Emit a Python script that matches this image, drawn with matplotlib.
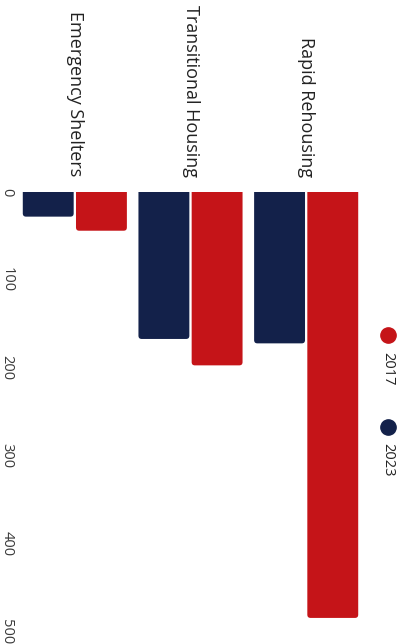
import numpy as np
import matplotlib.pyplot as plt
from matplotlib.lines import Line2D
from matplotlib.patches import FancyBboxPatch

categories = ["Emergency Shelters", "Transitional Housing", "Rapid Rehousing"]
years = ["2017", "2023"]
values_2017 = [44, 197, 484]
values_2023 = [28, 167, 172]
value_ticks = [0, 100, 200, 300, 400, 500]

color_2017 = "#C51418"
color_2023 = "#13214A"

plt.rcParams["font.family"] = ["Open Sans", "DejaVu Sans"]

fig = plt.figure(figsize=(4.04, 6.44), dpi=100)
ax = fig.add_axes([17 / 404, 1 - 632 / 644, 347 / 404, 440 / 644])

x = np.arange(len(categories))
width = 0.44
bars_2023 = ax.bar(x - 0.23, values_2023, width, color=color_2023)
bars_2017 = ax.bar(x + 0.23, values_2017, width, color=color_2017)

ax.set_xlim(-0.5, 2.5)
ax.set_ylim(0, 500)
ax.invert_yaxis()

# small rounded ends on the bars (the start at 0 is clipped by the axes)
aspect = (500 / 440) / (3 / 347)
for bar in list(bars_2023) + list(bars_2017):
    bx, by = bar.get_x(), bar.get_y()
    bw, bh = bar.get_width(), bar.get_height()
    rounded = FancyBboxPatch((bx, by - 10), bw, bh + 10,
                             boxstyle="round,pad=0,rounding_size=0.028",
                             mutation_aspect=aspect,
                             facecolor=bar.get_facecolor(), edgecolor="none")
    ax.add_patch(rounded)
    bar.set_visible(False)

ax.set_yticks(value_ticks)
ax.set_yticklabels([str(v) for v in value_ticks], rotation=-90,
                   fontsize=10.5, color="#3a3a3a", va="center", ha="right")
ax.tick_params(axis="y", length=0, pad=2)

ax.xaxis.set_ticks_position("top")
ax.set_xticks(x)
ax.set_xticklabels(categories, rotation=-90, fontsize=13, color="#222222",
                   ha="center", va="bottom")
ax.tick_params(axis="x", length=0, pad=11)

for spine in ax.spines.values():
    spine.set_visible(False)

# legend, drawn rotated like the rest of the chart
for year, color, dot_y, text_y in [
    (years[0], color_2017, 335, 352),
    (years[1], color_2023, 427, 443),
]:
    fig.add_artist(Line2D([388 / 404], [1 - dot_y / 644], marker="o",
                          markersize=11, color=color, linestyle="none",
                          transform=fig.transFigure))
    fig.text(388 / 404, 1 - text_y / 644, year, rotation=-90, fontsize=10.5,
             color="#222222", ha="center", va="top")

fig.savefig("out.png", dpi=100)
